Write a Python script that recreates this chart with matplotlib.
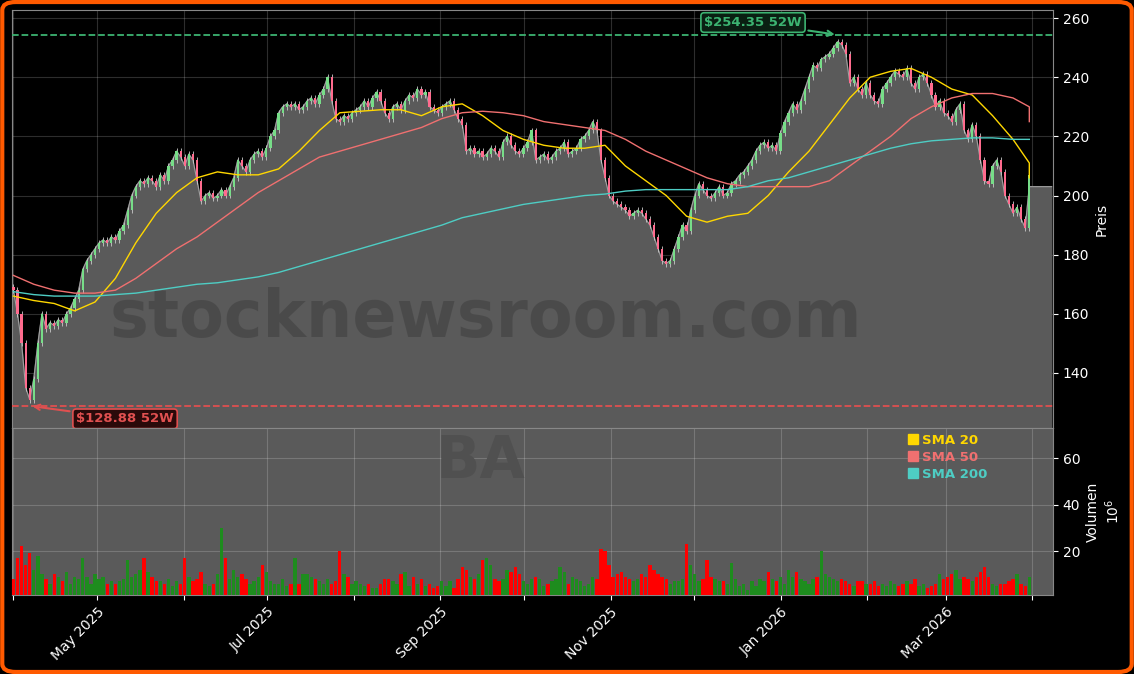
import matplotlib
matplotlib.use("Agg")
import matplotlib.pyplot as plt
import matplotlib.dates as mdates
from matplotlib.patches import FancyBboxPatch
from matplotlib.lines import Line2D
import numpy as np
import pandas as pd

# daily closes, Apr 2025 .. Mar 2026
close_apr = [168, 160, 150, 135, 131, 138, 150, 160, 155, 157, 156, 158, 157, 160, 162, 165, 168, 175, 178, 180, 182]
close_may = [184, 185, 184, 186, 185, 188, 190, 195, 200, 203, 205, 204, 206, 205, 203, 207, 205, 210, 212, 215, 213]
close_jun = [210, 214, 212, 205, 198, 200, 201, 199, 200, 202, 200, 203, 206, 212, 210, 208, 212, 214, 215, 213]
close_jul = [216, 220, 222, 228, 230, 231, 230, 231, 229, 230, 232, 233, 231, 234, 236, 240, 232, 226, 225, 227, 226, 228]
close_aug = [229, 230, 232, 230, 233, 235, 232, 228, 226, 230, 231, 229, 232, 234, 233, 236, 234, 235, 230, 229, 228]
close_sep = [230, 231, 232, 229, 226, 224, 215, 216, 214, 215, 213, 214, 216, 215, 213, 218, 220, 217, 215, 214, 216]
close_oct = [218, 222, 212, 213, 214, 212, 213, 215, 216, 218, 214, 215, 216, 219, 220, 222, 225, 222, 212, 206, 200, 198, 197]
close_nov = [196, 195, 193, 194, 195, 194, 192, 190, 186, 182, 178, 177, 178, 182, 186, 190, 188, 195, 200]
close_dec = [204, 202, 200, 199, 201, 203, 200, 201, 204, 205, 207, 208, 210, 212, 215, 217, 218, 216, 217, 215, 221, 225]
close_jan = [228, 231, 229, 232, 236, 240, 244, 243, 246, 247, 248, 250, 252, 251, 248, 238, 240, 236, 234, 238]
close_feb = [234, 232, 231, 236, 238, 240, 242, 241, 240, 243, 238, 236, 240, 241, 238, 234, 230, 232, 228]
close_mar = [227, 225, 229, 231, 222, 219, 224, 220, 212, 205, 204, 210, 212, 208, 200, 197, 194, 196, 192, 189, 207]

vol_apr = [8, 17, 22, 14, 19, 12, 18, 10, 8, 6, 10, 9, 7, 11, 6, 9, 8, 17, 9, 6, 10]
vol_may = [8, 9, 6, 7, 6, 7, 8, 16, 9, 10, 12, 17, 11, 9, 7, 7, 6, 8, 5, 7, 6]
vol_jun = [17, 9, 7, 8, 11, 6, 5, 6, 10, 30, 17, 8, 12, 9, 10, 8, 6, 7, 9, 14]
vol_jul = [11, 7, 6, 6, 8, 5, 6, 17, 6, 10, 10, 9, 8, 7, 6, 8, 6, 7, 20, 10, 9, 6]
vol_aug = [7, 6, 5, 6, 4, 4, 6, 8, 8, 7, 6, 10, 11, 5, 9, 6, 8, 5, 6, 4, 5]
vol_sep = [7, 5, 7, 4, 8, 13, 12, 9, 8, 10, 16, 17, 14, 8, 7, 8, 12, 11, 13, 10, 7]
vol_oct = [6, 8, 9, 8, 5, 6, 7, 8, 13, 11, 6, 9, 8, 7, 5, 6, 9, 8, 21, 20, 14, 9, 10]
vol_nov = [11, 9, 8, 7, 8, 10, 9, 14, 12, 10, 9, 8, 6, 7, 7, 8, 23, 14, 10]
vol_dec = [7, 8, 16, 9, 8, 7, 7, 6, 15, 8, 5, 6, 3, 7, 5, 8, 7, 11, 8, 7, 9, 6]
vol_jan = [12, 9, 11, 8, 7, 6, 8, 9, 20, 10, 9, 8, 7, 8, 7, 6, 5, 7, 7, 6]
vol_feb = [6, 7, 5, 6, 5, 7, 6, 5, 6, 7, 6, 8, 5, 6, 4, 5, 6, 10, 8]
vol_mar = [9, 10, 12, 8, 9, 8, 7, 9, 11, 13, 9, 6, 5, 6, 6, 7, 8, 10, 6, 5, 9]

# moving averages, sampled every 5 trading days (last point = last day)
sma20 = [166, 164.5, 163.5, 161, 164, 172, 184, 194, 201, 206, 208, 207, 207, 209, 215, 222, 228, 228.5,
         229, 229, 227, 230, 231, 227, 222, 219, 217, 216, 216, 217, 210, 205, 200, 193, 191, 193, 194, 200,
         208, 215, 224, 233, 240, 242, 243, 240, 236, 234, 227, 219, 211, 206]
sma50 = [173, 170, 168, 167, 167, 168, 172, 177, 182, 186, 191, 196, 201, 205, 209, 213, 215, 217, 219, 221,
         223, 226, 228, 228.5, 228, 227, 225, 224, 223, 222, 219, 215, 212, 209, 206, 204, 203, 203, 203, 203,
         205, 210, 215, 220, 226, 230, 233, 234.5, 234.5, 233, 230, 225]
sma200 = [167.5, 166.5, 166, 166, 166, 166.5, 167, 168, 169, 170, 170.5, 171.5, 172.5, 174, 176, 178, 180,
          182, 184, 186, 188, 190, 192.5, 194, 195.5, 197, 198, 199, 200, 200.5, 201.5, 202, 202, 202, 202,
          202, 203, 205, 206, 208, 210, 212, 214, 216, 217.5, 218.5, 219, 219.5, 219.5, 219, 219, 219]

HIGH_52W = 254.35
LOW_52W = 128.88
TICKER = "BA"

closes = np.array(close_apr + close_may + close_jun + close_jul + close_aug + close_sep
                  + close_oct + close_nov + close_dec + close_jan + close_feb + close_mar, float)
vols = np.array(vol_apr + vol_may + vol_jun + vol_jul + vol_aug + vol_sep
                + vol_oct + vol_nov + vol_dec + vol_jan + vol_feb + vol_mar, float)
n = len(closes)
dates = pd.date_range("2025-04-01", "2026-03-31", periods=n)
opens = np.r_[closes[0] + 1, closes[:-1]]
highs = np.maximum(opens, closes) + 1.0
lows = np.minimum(opens, closes) - 1.0
up = closes >= opens

sma_idx = [min(5 * k, n - 1) for k in range(len(sma20) - 1)] + [n - 1]
sma_dates = dates[sma_idx]

GRID = dict(color="white", alpha=0.18, lw=0.8)
FILL = "#5a5a5a"

fig = plt.figure(figsize=(11.34, 6.74), dpi=100, facecolor="black")
ax = fig.add_axes([0.0106, 0.365, 0.918, 0.620])
axv = fig.add_axes([0.0106, 0.117, 0.918, 0.248], sharex=ax)

for a in (ax, axv):
    a.set_facecolor("black")
    for s in a.spines.values():
        s.set_color("#888888")
    a.yaxis.tick_right()
    a.yaxis.set_label_position("right")
    a.tick_params(colors="white", labelsize=10)
    a.grid(True, **GRID)
    a.set_axisbelow(True)

# price area + candles
ext_dates = dates.append(pd.DatetimeIndex([dates[-1] + pd.Timedelta(days=8)]))
edge = np.r_[closes[:-1], closes[-1] - 4, closes[-1] - 4]
ax.fill_between(ext_dates, edge, 0, color=FILL, zorder=1)
ax.plot(ext_dates, edge, color="#a0a0a0", lw=0.8, zorder=2)
ax.vlines(dates, lows, highs, color="#c8c8c8", lw=0.6, zorder=3)
body_lo = np.minimum(opens, closes)
body_h = np.maximum(np.abs(closes - opens), 0.4)
ax.bar(dates, body_h, bottom=body_lo, width=0.8,
       color=np.where(up, "#77dd88", "#ff6b8e"), edgecolor="none", zorder=4)

ax.plot(sma_dates, sma20, color="#ffd700", lw=1, zorder=5)
ax.plot(sma_dates, sma50, color="#f07070", lw=1, zorder=5)
ax.plot(sma_dates, sma200, color="#4ecdc4", lw=1, zorder=5)

ax.axhline(HIGH_52W, color="#3cb371", ls="--", lw=1.3, zorder=5)
ax.axhline(LOW_52W, color="#e05050", ls="--", lw=1.3, zorder=5)

i_hi = int(np.argmax(closes))
i_lo = int(np.argmin(closes))
ax.annotate(f"${HIGH_52W:.2f} 52W", xy=(dates[i_hi], HIGH_52W),
            xytext=(dates[0] + pd.Timedelta(days=265), 258.5),
            color="#3cb371", fontsize=9.5, fontweight="bold", ha="center", va="center",
            bbox=dict(boxstyle="round,pad=0.25", fc="#0a1f12", ec="#3cb371", lw=1.2),
            arrowprops=dict(arrowstyle="->", color="#3cb371", lw=1.5), zorder=7)
ax.annotate(f"${LOW_52W:.2f} 52W", xy=(dates[i_lo], LOW_52W),
            xytext=(dates[0] + pd.Timedelta(days=40), 124.5),
            color="#e05050", fontsize=9.5, fontweight="bold", ha="center", va="center",
            bbox=dict(boxstyle="round,pad=0.25", fc="#2a0a0a", ec="#e05050", lw=1.2),
            arrowprops=dict(arrowstyle="->", color="#e05050", lw=1.5), zorder=7)

ax.text(0.455, 0.26, "stocknewsroom.com", transform=ax.transAxes, fontsize=47,
        fontweight="bold", color="#474747", alpha=0.8, ha="center", va="center", zorder=2)

ax.set_ylim(121.4, 262.7)
ax.set_yticks([140, 160, 180, 200, 220, 240, 260])
ax.set_ylabel("Preis", color="white", fontsize=10)
plt.setp(ax.get_xticklabels(), visible=False)
ax.tick_params(axis="x", length=0)

# volume
axv.set_facecolor(FILL)
axv.bar(dates, vols, width=1.2, color=np.where(up, "#1e8c1e", "#ff0000"), zorder=3)
axv.text(0.45, 0.8, TICKER, transform=axv.transAxes, fontsize=42, fontweight="bold",
         color="#505050", ha="center", va="center", zorder=1)
axv.set_ylim(1, 73)
axv.set_yticks([20, 40, 60])
axv.set_ylabel("Volumen\n$10^6$", color="white", fontsize=10)

handles = [Line2D([], [], marker="s", ls="none", color=c, markersize=7)
           for c in ("#ffd700", "#f07070", "#4ecdc4")]
leg = axv.legend(handles, ["SMA 20", "SMA 50", "SMA 200"], loc="upper left",
                 bbox_to_anchor=(0.85, 1.02), frameon=False, fontsize=9.5,
                 handletextpad=0.2, labelspacing=0.3, borderaxespad=0.3, handlelength=1)
for t, c in zip(leg.get_texts(), ("#ffd700", "#f07070", "#4ecdc4")):
    t.set_color(c)
    t.set_fontweight("bold")

axv.set_xlim(dates[0] - pd.Timedelta(days=0.5), dates[-1] + pd.Timedelta(days=8.5))
axv.xaxis.set_major_locator(mdates.MonthLocator())
axv.xaxis.set_major_formatter(plt.FuncFormatter(
    lambda v, p: mdates.num2date(v).strftime("%b %Y") if mdates.num2date(v).month % 2 == 1 else ""))
plt.setp(axv.get_xticklabels(), rotation=45, ha="right", rotation_mode="anchor")

fig.patches.append(FancyBboxPatch((0.002, 0.003), 0.996, 0.994, boxstyle="round,pad=0,rounding_size=0.012",
                                  transform=fig.transFigure, fc="none", ec="#ff5a00", lw=3))

fig.savefig("out.png", dpi=100, facecolor="black")
